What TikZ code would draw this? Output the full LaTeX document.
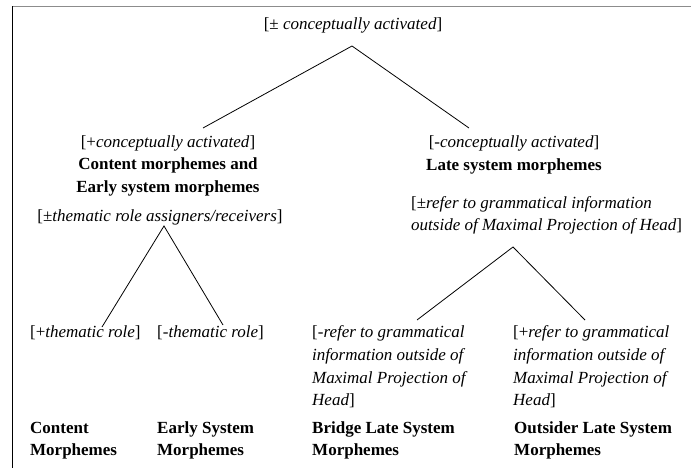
\documentclass[tikz,border=0pt]{standalone}
\usepackage{fontspec}
\setmainfont{Liberation Serif}

\begin{document}
\begin{tikzpicture}[x=1pt,y=-1pt,
  every node/.style={inner sep=0pt,font=\fontsize{17}{22.6}\selectfont},
  feat/.style={align=left},
  grp/.style={align=left,font=\fontsize{17}{22.6}\selectfont\bfseries},
  branch/.style={line width=0.8pt}]
\useasboundingbox (0,0) rectangle (691,468);
% frame
\draw[black!45,line width=1pt] (12.5,6.5) -- (691,6.5);
\draw[line width=1.2pt] (12.5,6.5) -- (12.5,468);

% top split
\node (root) at (353,25) {[±\ \textit{conceptually activated}]};
\coordinate (rootfork) at (352,46);
\coordinate (cend) at (203,128);
\coordinate (lend) at (469,128);
\draw[branch] (cend) -- (rootfork) -- (lend);

% left branch
\node (cfeat) at (168,143) {[+\textit{conceptually activated}]};
\node[grp,align=center] (cgrp) at (168,177) {Content morphemes and\\Early system morphemes};
\node (thfeat) at (160,217) {[±\textit{thematic role assigners/receivers}]};
\coordinate (thfork) at (164,226);
\coordinate (thplus) at (102,327);
\coordinate (thminus) at (223,325);
\draw[branch] (thplus) -- (thfork) -- (thminus);
\node[anchor=west] (plusth) at (30,333) {[+\textit{thematic role}]};
\node[anchor=west] (minusth) at (157,333) {[-\textit{thematic role}]};

% right branch
\node (lfeat) at (514,143) {[-\textit{conceptually activated}]};
\node[grp] (lgrp) at (514,166) {Late system morphemes};
\node[feat,anchor=west] (reffeat) at (411,215.5)
  {[±\textit{refer to grammatical information}\\\textit{outside of Maximal Projection of Head}]};
\coordinate (reffork) at (513,247);
\coordinate (refminus) at (417,320);
\coordinate (refplus) at (585,320);
\draw[branch] (refminus) -- (reffork) -- (refplus);
\node[feat,anchor=west] (bridgefeat) at (312,367)
  {[-\textit{refer to grammatical}\\\textit{information outside of}\\\textit{Maximal Projection of}\\\textit{Head}]};
\node[feat,anchor=west] (outsfeat) at (513,367)
  {[+\textit{refer to grammatical}\\\textit{information outside of}\\\textit{Maximal Projection of}\\\textit{Head}]};

% bottom row
\foreach \x/\nm/\txt in {30/content/{Content\\Morphemes},157/early/{Early System\\Morphemes},
  312/bridge/{Bridge Late System\\Morphemes},514/outsider/{Outsider Late System\\Morphemes}}
\node[grp,anchor=west] (\nm) at (\x,440.5) {\txt};
\end{tikzpicture}
\end{document}
